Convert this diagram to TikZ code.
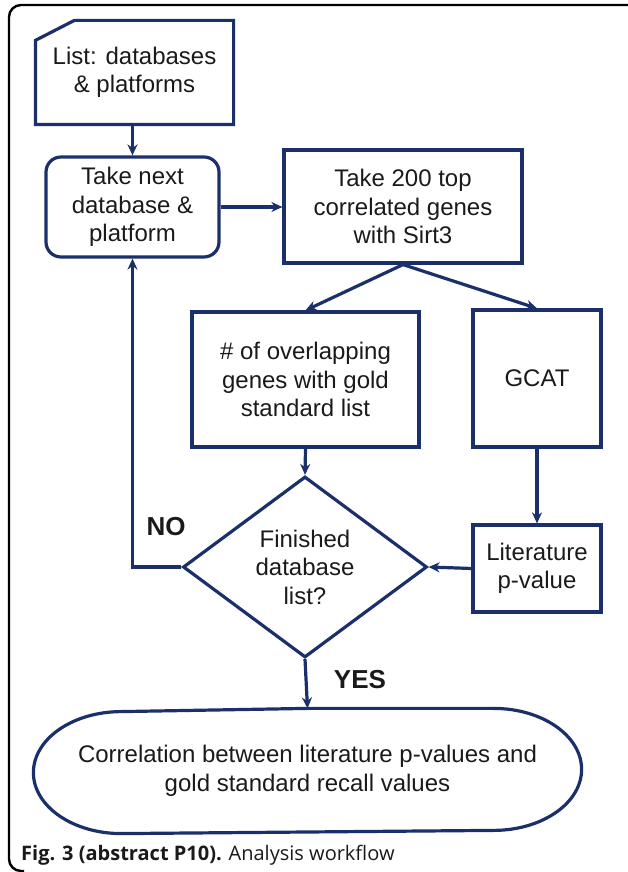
\documentclass[tikz,border=0pt]{standalone}
\usepackage{fontspec}
\setmainfont{Liberation Sans}
\newfontfamily\capfont{Open Sans}
\usetikzlibrary{arrows.meta,shapes.geometric,positioning,calc}

\definecolor{navy}{HTML}{1B2F6B}
\definecolor{ink}{HTML}{1A1A1A}

\tikzset{
  line/.style={draw=navy,line width=3.2pt},
  box/.style={line,rectangle,align=center,text=ink,inner sep=2pt,
    font=\fontsize{24}{28.5}\selectfont},
  plain/.style={box,draw=none},
  decision/.style={box,diamond,aspect=1.35,inner sep=0pt},
  flow/.style={draw=navy,line width=3.2pt,-{Stealth[length=11pt,width=10pt]}},
  answer/.style={text=ink,font=\fontsize{26}{30}\selectfont\bfseries}
}

\begin{document}
\begin{tikzpicture}[x=1pt,y=1pt]
  \useasboundingbox (0,0) rectangle (627,872);

  % outer frame of the figure
  \draw[black,line width=2.4pt,rounded corners=12pt] (24,1) -- (9,1) -- (9,867) -- (628,867);

  % start: list with the cut corner
  \node[plain,minimum width=195pt,minimum height=101pt] (list) at (134.5,799.5) {List: databases\\\& platforms};
  \draw[line,line join=miter] ([yshift=-20pt]list.north west) -- ([xshift=39pt]list.north west)
    -- (list.north east) -- (list.south east) -- (list.south west) -- cycle;

  % upper row
  \node[box,rounded corners=15pt,minimum width=173pt,minimum height=100pt] (next) at (132.5,665) {Take next\\database \&\\platform};
  \node[box,minimum width=238pt,minimum height=113pt] (top) at (403,665.5) {Take 200 top\\correlated genes\\with Sirt3};

  % middle row
  \node[box,minimum width=227pt,minimum height=135pt] (overlap) at (305.5,492.5) {\# of overlapping\\genes with gold\\standard list};
  \node[box,minimum width=128pt,minimum height=137pt] (gcat) at (537,493.5) {GCAT};

  % decision and literature value
  \node[decision,minimum width=244pt,minimum height=181pt] (dec) at (305,305) {Finished\\database\\list?};
  \node[box,minimum width=128pt,minimum height=87pt] (lit) at (537,303.5) {Literature\\p-value};

  % result with oval ends
  \node[plain,minimum width=545pt,minimum height=122pt] (res) at (307.5,101) {Correlation between literature p-values and\\gold standard recall values};
  \draw[line] (res.north) -- ([xshift=-88pt]res.north east)
    arc[start angle=90,end angle=-90,x radius=88pt,y radius=61pt]
    -- ([xshift=88pt]res.south west)
    arc[start angle=270,end angle=90,x radius=88pt,y radius=61pt] -- cycle;

  % connectors
  \draw[flow] (list.south -| next) -- (next.north);
  \draw[flow] (next.east) -- (next.east -| top.west);
  \draw[flow] (top.south) -- (overlap.north);
  \draw[flow] (top.south) -- (gcat.north);
  \draw[flow] (overlap.south) -- (dec.north);
  \draw[flow] (gcat.south) -- (lit.north);
  \draw[flow] (lit.west) -- (dec.east);
  \draw[flow] (dec.west) -| (next.south);
  \draw[flow] (dec.south) -- (res.north);

  % answers
  \node[answer] (no) at (166,345) {NO};
  \node[answer] (yes) at (360,192) {YES};

  % caption
  \node[anchor=base west,inner sep=0pt,text=ink,font=\capfont\fontsize{20}{23}\selectfont] (cap) at (21,12)
    {\textbf{Fig. 3 (abstract P10).} Analysis workflow};
\end{tikzpicture}
\end{document}
